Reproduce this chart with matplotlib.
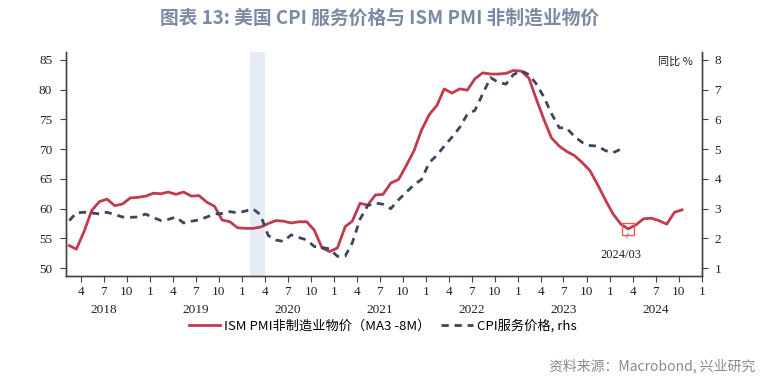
import matplotlib
matplotlib.use("Agg")
import matplotlib.pyplot as plt
import matplotlib.dates as mdates
import pandas as pd

plt.rcParams["font.family"] = ["Noto Sans CJK SC", "DejaVu Sans"]

# ISM PMI non-manufacturing prices (MA3, shifted 8 months), 2018-02 .. 2024-10
pmi_start = "2018-02"
pmi_prices = [
    53.8, 53.2, 56.2, 59.7, 61.2, 61.6, 60.5, 60.8, 61.8, 61.9, 62.1,
    62.6, 62.5, 62.8, 62.4, 62.8, 62.1, 62.2, 61.1, 60.4, 58.1, 57.8, 56.8,
    56.7, 56.7, 56.9, 57.5, 58.0, 57.9, 57.6, 57.8, 57.8, 56.4, 53.4, 52.8,
    53.4, 57.0, 57.9, 60.9, 60.6, 62.3, 62.4, 64.3, 64.9, 67.2, 69.7, 73.2,
    75.8, 77.4, 80.1, 79.4, 80.1, 79.9, 81.8, 82.8, 82.6, 82.6, 82.7, 83.2,
    83.1, 81.9, 78.5, 75.0, 71.9, 70.5, 69.6, 68.9, 67.7, 66.4, 64.0, 61.5,
    59.1, 57.4, 56.6, 57.3, 58.3, 58.4, 58.0, 57.4, 59.4, 59.8,
]

# CPI services yoy %, 2018-02 .. 2024-02 (right axis)
cpi_start = "2018-02"
cpi_services = [
    2.60, 2.86, 2.88, 2.86, 2.82, 2.88, 2.80, 2.72, 2.71, 2.72, 2.82,
    2.70, 2.60, 2.64, 2.72, 2.52, 2.58, 2.62, 2.72, 2.82, 2.84, 2.90, 2.86,
    2.92, 2.99, 2.80, 2.10, 1.95, 1.90, 2.12, 2.03, 1.95, 1.73, 1.70, 1.65,
    1.40, 1.41, 1.85, 2.65, 3.10, 3.19, 3.15, 3.00, 3.30, 3.55, 3.80, 3.98,
    4.55, 4.80, 5.10, 5.40, 5.72, 6.17, 6.30, 6.85, 7.40, 7.25, 7.18, 7.50,
    7.63, 7.50, 7.20, 6.75, 6.20, 5.72, 5.70, 5.42, 5.22, 5.12, 5.10, 4.95,
    4.88, 5.00,
]

recession = ("2020-02-01", "2020-04-01")
marked_month = "2024-03"
year_labels = [2018, 2019, 2020, 2021, 2022, 2023, 2024]

RED = "#c13a4d"
NAVY = "#3b4760"
SERIF = "Liberation Serif"


def mid_month(start, n):
    return pd.date_range(start, periods=n, freq="MS") + pd.Timedelta(days=13)


def main():
    x_pmi = mid_month(pmi_start, len(pmi_prices))
    x_cpi = mid_month(cpi_start, len(cpi_services))

    fig = plt.figure(figsize=(7.65, 3.83), dpi=100)
    ax = fig.add_axes([0.0863, 0.2794, 0.8313, 0.5848])
    ax2 = ax.twinx()

    ax.axvspan(pd.Timestamp(recession[0]), pd.Timestamp(recession[1]),
               color="#e6ecf6", lw=0, zorder=0)

    l1, = ax.plot(x_pmi, pmi_prices, color=RED, lw=2.0, zorder=3,
                  label="ISM PMI非制造业物价（MA3 -8M）")
    l2, = ax2.plot(x_cpi, cpi_services, color=NAVY, lw=2.0,
                   linestyle=(0, (2.6, 2.1)), label="CPI服务价格, rhs")

    # marked point
    i = list(x_pmi.strftime("%Y-%m")).index(marked_month)
    ax.plot(x_pmi[i], pmi_prices[i], marker="s", ms=8, mfc="none",
            mec="#e8585e", mew=1.0, zorder=4)
    ax.annotate("2024/03", xy=(x_pmi[i], pmi_prices[i] - 0.8),
                xytext=(x_pmi[i] - pd.Timedelta(days=30), pmi_prices[i] - 4.3),
                ha="center", va="center", fontsize=9, family=SERIF,
                color="#222222",
                arrowprops=dict(arrowstyle="-", color="#888888", lw=0.8,
                                shrinkA=6, shrinkB=0))

    ax.set_xlim(pd.Timestamp("2018-02-01"), pd.Timestamp("2025-01-01"))
    ax.set_ylim(48.7, 86.3)
    ax2.set_ylim(0.74, 8.26)
    ax.set_yticks(range(50, 90, 5))
    ax2.set_yticks(range(1, 9))

    ax.xaxis.set_major_locator(mdates.MonthLocator(bymonth=[1, 4, 7, 10]))
    ax.xaxis.set_major_formatter(
        matplotlib.ticker.FuncFormatter(lambda v, p: str(mdates.num2date(v).month)))

    for a in (ax, ax2):
        a.spines["top"].set_visible(False)
        for s in a.spines.values():
            s.set_color("#444444")
            s.set_linewidth(1.0)
        a.tick_params(length=4, width=0.8, color="#444444", labelsize=9.5,
                      labelcolor="#222222")
        for lab in a.get_xticklabels() + a.get_yticklabels():
            lab.set_family(SERIF)
    ax.tick_params(axis="x", pad=3)
    ax.tick_params(axis="y", pad=6)
    ax2.tick_params(axis="y", pad=5)

    for yr in year_labels:
        ax.text(pd.Timestamp(f"{yr}-07-01"), -0.15, str(yr),
                transform=ax.get_xaxis_transform(), ha="center", va="center",
                fontsize=9.5, family=SERIF, color="#222222")

    ax2.text(0.985, 0.955, "同比 %", transform=ax2.transAxes, ha="right",
             va="center", fontsize=8, color="#222222")

    fig.legend(handles=[l1, l2], loc="center", bbox_to_anchor=(0.5, 0.148),
               ncol=2, frameon=False, fontsize=9.5, handlelength=2.4,
               handletextpad=0.3, columnspacing=0.8)

    fig.text(0.496, 0.953, "图表 13: 美国 CPI 服务价格与 ISM PMI 非制造业物价",
             ha="center", va="center", fontsize=13.5, fontweight="bold",
             color="#7b8ba5")
    fig.text(0.987, 0.045, "资料来源：Macrobond, 兴业研究", ha="right",
             va="center", fontsize=10, color="#8a8a8a")

    fig.savefig("out.png", dpi=100)


if __name__ == "__main__":
    main()
